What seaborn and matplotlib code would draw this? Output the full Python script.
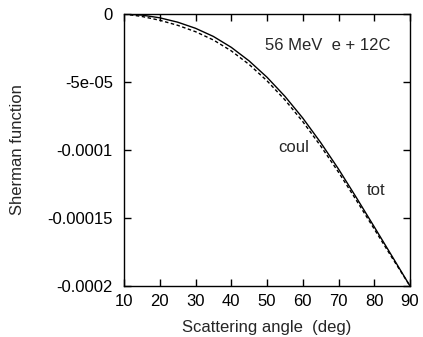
import numpy as np
import pandas as pd
import matplotlib
matplotlib.use("Agg")
import matplotlib.pyplot as plt
import seaborn as sns

# Scattering angle grid (deg) and Sherman function for 56 MeV e + 12C
angle = [10, 15, 20, 25, 30, 35, 40, 45, 50, 55, 60, 65, 70, 75, 80, 85, 90]
s_tot = [0.0, -0.8e-6, -2.8e-6, -6.0e-6, -1.05e-5, -1.65e-5, -2.45e-5, -3.45e-5,
         -4.65e-5, -6.05e-5, -7.65e-5, -9.45e-5, -1.14e-4, -1.35e-4, -1.565e-4,
         -1.782e-4, -2.0e-4]
s_coul = [0.0, -1.8e-6, -4.6e-6, -8.3e-6, -1.3e-5, -1.91e-5, -2.71e-5, -3.71e-5,
          -4.91e-5, -6.31e-5, -7.91e-5, -9.7e-5, -1.163e-4, -1.37e-4, -1.581e-4,
          -1.793e-4, -2.0e-4]

df = pd.DataFrame({
    "angle": angle * 2,
    "sherman": s_tot + s_coul,
    "curve": ["tot"] * len(angle) + ["coul"] * len(angle),
})

sns.set_theme(style="ticks")
plt.rcParams["font.family"] = ["Liberation Sans", "DejaVu Sans"]

fig = plt.figure(figsize=(4.23, 3.37), dpi=100)
ax = fig.add_axes([124 / 423, 1 - 286 / 337, 286 / 423, 272 / 337])

sns.lineplot(data=df, x="angle", y="sherman", style="curve",
             dashes={"tot": "", "coul": (2.5, 1.8)}, color="black",
             linewidth=1.0, legend=False, ax=ax, sort=False)

ax.set_xlim(10, 90)
ax.set_ylim(-0.0002, 0)
ax.set_xticks([10, 20, 30, 40, 50, 60, 70, 80, 90])
ax.set_yticks([0, -5e-5, -1e-4, -1.5e-4, -2e-4])
ax.set_yticklabels(["0", "-5e-05", "-0.0001", "-0.00015", "-0.0002"])
ax.tick_params(direction="in", length=5, width=1, top=True, right=True,
               labelsize=12, colors="black", pad=8)
ax.tick_params(axis="x", pad=6)
for sp in ax.spines.values():
    sp.set_linewidth(1.0)
    sp.set_color("black")

ax.set_xlabel("Scattering angle  (deg)", fontsize=12, labelpad=8)
ax.set_ylabel("Sherman function", fontsize=12, labelpad=16)

ax.text(49.5, -2.35e-5, "56 MeV  e + 12C", fontsize=12, va="center")
ax.text(53.1, -9.8e-5, "coul", fontsize=12, va="center")
ax.text(78.0, -1.30e-4, "tot", fontsize=12, va="center")

fig.savefig("out.png", dpi=100)
